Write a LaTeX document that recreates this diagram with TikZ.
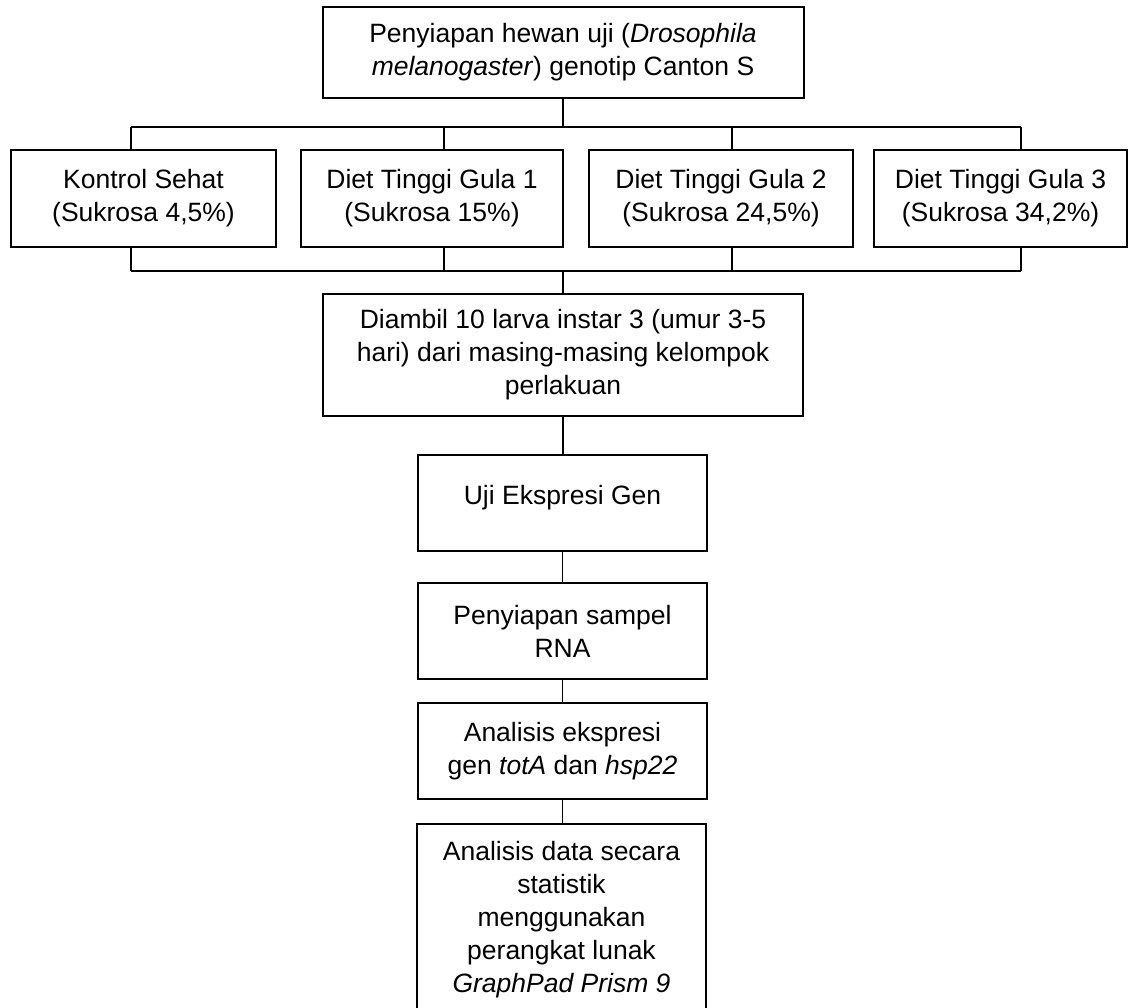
\documentclass[tikz,border=0pt]{standalone}
\usepackage{fontspec}
\setmainfont{Liberation Sans}
\tikzset{
    stepbox/.style={
        draw, black, line width=2pt, inner sep=0pt, align=center,
        font=\fontsize{26.5pt}{33pt}\selectfont
    },
    link/.style={
        line width=1.6pt, black
    }
}
\begin{document}
\begin{tikzpicture}[x=1pt, y=-1pt]
    \useasboundingbox (0,0) rectangle (1131,1007);
    \node[stepbox, minimum width=481pt, minimum height=91pt] (hewan) at (563,52.5)
        {Penyiapan hewan uji (\textit{Drosophila}\\\textit{melanogaster}) genotip Canton S};
    \node[stepbox, minimum width=265pt, minimum height=97pt] (k1) at (143.5,198.5)
        {Kontrol Sehat\\(Sukrosa 4,5\%)};
    \node[stepbox, minimum width=262pt, minimum height=97pt] (k2) at (432,198.5)
        {Diet Tinggi Gula 1\\(Sukrosa 15\%)};
    \node[stepbox, minimum width=264pt, minimum height=97pt] (k3) at (721,198.5)
        {Diet Tinggi Gula 2\\(Sukrosa 24,5\%)};
    \node[stepbox, minimum width=253pt, minimum height=97pt] (k4) at (1000.5,198.5)
        {Diet Tinggi Gula 3\\(Sukrosa 34,2\%)};
    \node[stepbox, minimum width=480pt, minimum height=122pt] (ambil) at (563,355)
        {Diambil 10 larva instar 3 (umur 3-5\\hari) dari masing-masing kelompok\\perlakuan};
    \node[stepbox, minimum width=289pt, minimum height=96pt, text depth=17pt] (uji) at (562.5,503)
        {Uji Ekspresi Gen};
    \node[stepbox, minimum width=289pt, minimum height=96pt] (sampel) at (562.5,631)
        {Penyiapan sampel\\RNA};
    \node[stepbox, minimum width=289pt, minimum height=96pt] (ekspresi) at (562.5,751)
        {Analisis ekspresi\\gen \textit{totA} dan \textit{hsp22}};
    \node[stepbox, minimum width=289pt, minimum height=192pt, anchor=north] (statistik) at (561.5,823)
        {Analisis data secara\\statistik\\menggunakan\\perangkat lunak\\\textit{GraphPad Prism 9}};

    \coordinate (t1) at (131,127);
    \coordinate (t2) at (444,127);
    \coordinate (t3) at (732,127);
    \coordinate (t4) at (1021,127);
    \coordinate (b1) at (131,271);
    \coordinate (b2) at (444,271);
    \coordinate (b3) at (732,271);
    \coordinate (b4) at (1021,271);

    \draw[link] (hewan.south) -- (hewan.south |- t1);
    \draw[link] (t1) -- (t4);
    \draw[link] (b1) -- (b4);
    \foreach \i in {1,...,4} {
        \draw[link] (t\i) -- (t\i |- k\i.north);
        \draw[link] (k\i.south -| b\i) -- (b\i);
    }
    \draw[link] (b1 -| ambil.north) -- (ambil.north);
    \draw[link] (ambil.south) -- (ambil.south |- uji.north);
    \draw[link] (uji.south) -- (uji.south |- sampel.north);
    \draw[link] (sampel.south) -- (sampel.south |- ekspresi.north);
    \draw[link] (ekspresi.south) -- (ekspresi.south |- statistik.north);
\end{tikzpicture}
\end{document}
